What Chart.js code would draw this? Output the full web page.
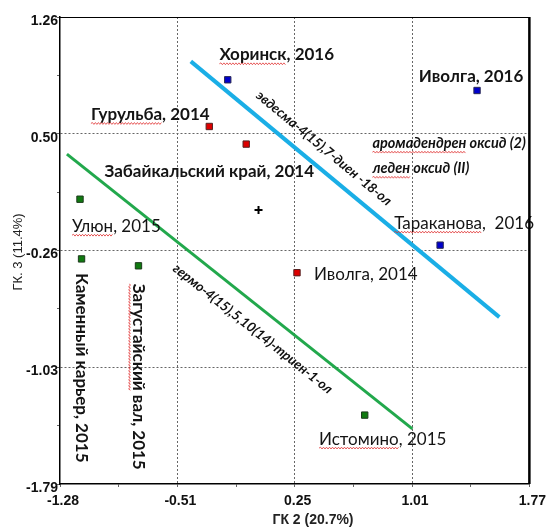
<!DOCTYPE html>
<html>
<head>
<meta charset="utf-8">
<script src="https://cdn.jsdelivr.net/npm/chart.js@4.4.0/dist/chart.umd.min.js"></script>
<style>
    html, body { margin: 0; padding: 0; background: #fff; }
</style>
</head>
<body>
<canvas id="pcaChart" width="549" height="528"></canvas>
<script>
    // axis ticks (PC2 horizontal, PC3 vertical)
    var xTickLabels = ['-1.28', '-0.51', '0.25', '1.01', '1.77'];
    var yTickLabels = ['-1.79', '-1.03', '-0.26', '0.50', '1.26'];
    var axisTitles = ['ГК 2 (20.7%)', 'ГК. 3 (11.4%)'];

    // samples, 2016
    var sites2016 = ['Хоринск, 2016', 'Иволга, 2016', 'Тараканова,  2016'];
    var gk2_2016 = [-0.19, 1.43, 1.19];
    var gk3_2016 = [0.85, 0.78, -0.23];

    // samples, 2014
    var sites2014 = ['Гурульба, 2014', 'Забайкальский край, 2014', 'Иволга, 2014'];
    var gk2_2014 = [-0.31, -0.07, 0.26];
    var gk3_2014 = [0.545, 0.43, -0.41];

    // samples, 2015
    var sites2015 = ['Улюн, 2015', 'Каменный карьер, 2015', 'Загустайский вал, 2015', 'Истомино, 2015'];
    var gk2_2015 = [-1.15, -1.14, -0.77, 0.70];
    var gk3_2015 = [0.07, -0.32, -0.365, -1.34];

    // centre of the plot
    var centreX = [0.01];
    var centreY = [0.0];

    // separating lines
    var eudesmLineX = [-0.43, 1.575];
    var eudesmLineY = [0.97, -0.70];
    var germLineX = [-1.235, 1.01];
    var germLineY = [0.364, -1.43];
    var lineNames = ['эвдесма-4(15),7-диен -18-ол', 'гермо-4(15),5,10(14)-триен-1-ол'];

    var noteTexts = ['аромадендрен оксид (2)', 'леден оксид (II)'];
    var noteX = [0.75, 0.75];
    var noteY = [0.436, 0.272];

    function toPoints(xs, ys) {
        return xs.map(function (x, i) { return { x: x, y: ys[i] }; });
    }

    var BOLD = 'bold 17px Lato';
    var REG = '17px Lato';
    var ITAL = 'italic bold 13.5px Lato';

    // where each site name sits relative to its marker (pixels)
    var places2016 = [
        { dx: 49, dy: -25, font: BOLD, spell: 1 },
        { dx: -6, dy: -14, font: BOLD },
        { dx: 24, dy: -22, font: REG, spell: 1 }
    ];
    var places2014 = [
        { dx: -59, dy: -12, font: BOLD, spell: 1 },
        { dx: -37, dy: 27, font: BOLD },
        { dx: 17, dy: 2, font: REG, align: 'left' }
    ];
    var places2015 = [
        { dx: -8, dy: 27, font: REG, align: 'left', spell: 1 },
        { dx: 0, dy: 14, font: BOLD, align: 'left', vertical: true },
        { dx: 0, dy: 18, font: BOLD, align: 'left', vertical: true, spell: 1 },
        { dx: 18, dy: 24, font: REG, spell: 1 }
    ];

    function squiggle(ctx, x0, x1, y) {
        ctx.save();
        ctx.strokeStyle = '#e03030';
        ctx.lineWidth = 0.8;
        ctx.beginPath();
        var up = true;
        ctx.moveTo(x0, y);
        for (var x = x0 + 1.5; x <= x1; x += 1.5) {
            ctx.lineTo(x, y + (up ? -0.9 : 0.9));
            up = !up;
        }
        ctx.stroke();
        ctx.restore();
    }

    function drawText(ctx, text, font, align, spellWords, color) {
        ctx.font = font;
        ctx.textAlign = align;
        ctx.textBaseline = 'middle';
        ctx.fillStyle = color || '#141414';
        ctx.fillText(text, 0, 0);
        if (spellWords) {
            var w = ctx.measureText(text).width;
            var start = align === 'center' ? -w / 2 : 0;
            var word = text.split(' ')[0].replace(',', '');
            var ww = ctx.measureText(word).width;
            squiggle(ctx, start, start + ww, 9);
        }
    }

    var labelPlugin = {
        id: 'siteLabels',
        afterDatasetsDraw: function (chart) {
            var ctx = chart.ctx;
            chart.data.datasets.forEach(function (ds, di) {
                var meta = chart.getDatasetMeta(di);
                if (ds.names && ds.places) {
                    ds.names.forEach(function (name, i) {
                        var pt = meta.data[i];
                        var p = ds.places[i];
                        ctx.save();
                        ctx.translate(pt.x + p.dx, pt.y + p.dy);
                        if (p.vertical) {
                            ctx.rotate(Math.PI / 2);
                        }
                        drawText(ctx, name, p.font, p.align || 'center', p.spell);
                        ctx.restore();
                    });
                }
                if (ds.lineLabel) {
                    var a = meta.data[0], b = meta.data[1];
                    var dx = b.x - a.x, dy = b.y - a.y;
                    var len = Math.sqrt(dx * dx + dy * dy);
                    var ux = dx / len, uy = dy / len;
                    var t = ds.lineLabel.t * len, off = ds.lineLabel.off;
                    ctx.save();
                    ctx.translate(a.x + ux * t + uy * off, a.y + uy * t - ux * off);
                    ctx.rotate(Math.atan2(dy, dx));
                    drawText(ctx, ds.lineLabel.text, ITAL, 'center', false, '#111');
                    ctx.restore();
                }
            });

            var xs = chart.scales.x, ys = chart.scales.y;
            noteTexts.forEach(function (txt, i) {
                ctx.save();
                ctx.translate(xs.getPixelForValue(noteX[i]), ys.getPixelForValue(noteY[i]));
                drawText(ctx, txt, 'italic bold 14.5px Lato', 'left', true, '#111');
                ctx.restore();
            });

            // axis titles
            ctx.save();
            ctx.translate(313, 520);
            drawText(ctx, axisTitles[0], 'bold 14px "Liberation Sans"', 'center', false, '#222');
            ctx.restore();
            ctx.save();
            ctx.translate(18, 252);
            ctx.rotate(-Math.PI / 2);
            drawText(ctx, axisTitles[1], '13px "Liberation Sans"', 'center', false, '#222');
            ctx.restore();
        },
        afterDraw: function (chart) {
            var ctx = chart.ctx, area = chart.chartArea;
            ctx.save();
            ctx.strokeStyle = '#000';
            ctx.lineWidth = 1;
            ctx.beginPath();
            ctx.moveTo(area.left, area.top + 0.5);
            ctx.lineTo(area.right, area.top + 0.5);
            ctx.stroke();
            ctx.lineWidth = 2.5;
            ctx.beginPath();
            ctx.moveTo(area.right, area.top);
            ctx.lineTo(area.right, area.bottom);
            ctx.stroke();
            ctx.restore();
        }
    };

    function splitTicks(scale) {
        var n = 8, step = (scale.max - scale.min) / n, ticks = [];
        for (var k = 0; k <= n; k++) {
            ticks.push({ value: scale.min + k * step });
        }
        scale.ticks = ticks;
    }

    function gridColor(c) {
        return (c.index % 2 === 0 && c.index > 0 && c.index < 8) ? '#666' : 'rgba(0,0,0,0)';
    }

    var square = { pointStyle: 'rect', pointRadius: 4.5, pointHoverRadius: 4.5, borderWidth: 1 };

    Chart.defaults.font.family = 'Liberation Sans';
    Chart.defaults.color = '#111';

    new Chart(document.getElementById('pcaChart').getContext('2d'), {
        type: 'scatter',
        data: {
            datasets: [
                {
                    type: 'line', data: toPoints(eudesmLineX, eudesmLineY), showLine: true,
                    borderColor: '#1aaee6', borderWidth: 4, pointRadius: 0, fill: false,
                    lineLabel: { text: lineNames[0], t: 0.394, off: 18 }
                },
                {
                    type: 'line', data: toPoints(germLineX, germLineY), showLine: true,
                    borderColor: '#22a84c', borderWidth: 3, pointRadius: 0, fill: false,
                    lineLabel: { text: lineNames[1], t: 0.576, off: -21 }
                },
                Object.assign({
                    data: toPoints(gk2_2016, gk3_2016), names: sites2016, places: places2016,
                    backgroundColor: '#0000cc', borderColor: '#2a2a55'
                }, square),
                Object.assign({
                    data: toPoints(gk2_2014, gk3_2014), names: sites2014, places: places2014,
                    backgroundColor: '#dd0000', borderColor: '#552222'
                }, square),
                Object.assign({
                    data: toPoints(gk2_2015, gk3_2015), names: sites2015, places: places2015,
                    backgroundColor: '#107a10', borderColor: '#1d3a1d'
                }, square),
                {
                    data: toPoints(centreX, centreY), pointStyle: 'cross', pointRadius: 4,
                    borderColor: '#000', borderWidth: 2
                }
            ]
        },
        options: {
            responsive: false,
            animation: false,
            events: [],
            layout: { padding: { left: 0, right: 19, top: 17, bottom: 0 } },
            plugins: {
                legend: { display: false },
                tooltip: { enabled: false }
            },
            scales: {
                x: {
                    type: 'linear',
                    min: parseFloat(xTickLabels[0]),
                    max: parseFloat(xTickLabels[xTickLabels.length - 1]),
                    afterBuildTicks: splitTicks,
                    afterFit: function (s) { s.height = 44; },
                    grid: { color: gridColor, tickColor: '#666', tickLength: 3, lineWidth: 1 },
                    border: { display: true, color: '#000', width: 1.5, dash: [2, 2] },
                    ticks: {
                        autoSkip: false, maxRotation: 0, padding: 6, labelOffset: 3,
                        font: { size: 14, weight: 'bold' }, color: '#111',
                        callback: function (v, i) { return i % 2 === 0 ? xTickLabels[i / 2] : ''; }
                    }
                },
                y: {
                    type: 'linear',
                    min: parseFloat(yTickLabels[0]),
                    max: parseFloat(yTickLabels[yTickLabels.length - 1]),
                    afterBuildTicks: splitTicks,
                    afterFit: function (s) { s.width = 60; },
                    grid: { color: gridColor, tickColor: '#666', tickLength: 3, lineWidth: 1 },
                    border: { display: true, color: '#000', width: 1.5, dash: [2, 2] },
                    ticks: {
                        autoSkip: false, padding: -1, labelOffset: 4,
                        font: { size: 14, weight: 'bold' }, color: '#111',
                        callback: function (v, i) { return i % 2 === 0 ? yTickLabels[i / 2] : ''; }
                    }
                }
            }
        },
        plugins: [labelPlugin]
    });
</script>
</body>
</html>
